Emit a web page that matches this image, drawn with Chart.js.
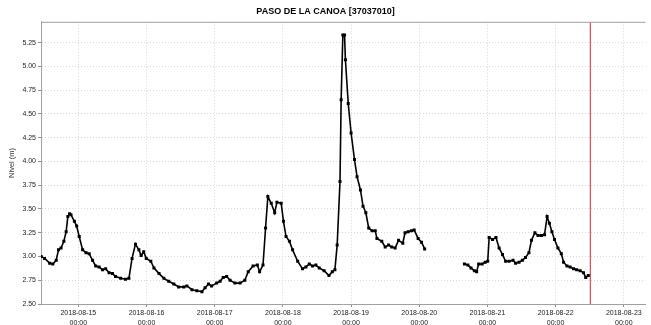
<!DOCTYPE html>
<html>
<head>
<meta charset="utf-8">
<script src="https://cdn.jsdelivr.net/npm/chart.js@4.4.1/dist/chart.umd.min.js"></script>
<style>
  body { margin: 0; background: #fff; }
</style>
</head>
<body>
<canvas id="nivelChart" width="651" height="325"></canvas>
<script>
// hours counted from 2018-08-14 00:00
var baseDay = "2018-08-14";

var hours = [
  10.9, 12.1, 13.9, 15.0, 16.2, 17.0, 17.9, 18.9, 19.7, 20.3, 20.9, 21.4, 22.6, 23.4,
  24.3, 25.5, 26.7, 27.8, 29.0, 30.1, 31.3, 32.5, 33.6, 34.8, 36.0, 37.1, 38.9, 40.6,
  41.8, 42.9, 44.1, 45.3, 46.1, 47.0, 47.9, 49.5, 50.6, 52.4, 54.1, 55.8, 57.6, 59.3,
  61.1, 62.2, 64.0, 65.7, 67.5, 68.6, 69.8, 70.9, 72.7, 73.9, 75.0, 76.2, 77.4, 79.1,
  80.9, 82.6, 83.8, 85.5, 87.0, 87.8, 89.0, 89.9, 90.7, 91.9, 93.1, 93.9, 95.4, 96.2,
  97.1, 98.3, 99.4, 101.2, 102.9, 104.1, 105.3, 106.4, 107.6, 108.8, 110.5, 112.2, 113.4,
  114.3, 115.1, 116.1, 116.5, 117.1, 117.7, 118.0, 119.0, 120.0, 121.2, 122.1, 123.3,
  124.2, 125.2, 126.2, 127.4, 128.5, 129.1, 130.8, 132.0, 133.2, 134.3, 135.5, 136.7,
  138.2, 139.0, 140.1, 141.3, 142.2, 143.6, 144.8, 145.9,
  152.0,
  159.9, 161.1, 162.2, 163.4, 164.2, 164.9, 166.1, 167.2, 168.1, 168.6, 169.8, 171.0,
  172.1, 173.3, 174.4, 175.6, 177.0, 177.9, 179.1, 180.3, 181.4, 182.6, 183.5, 184.7,
  185.8, 187.0, 188.1, 189.0, 189.8, 190.7, 191.6, 192.8, 194.0, 194.8, 196.0, 197.1,
  198.3, 199.4, 200.6, 201.8, 202.6, 203.5
];

var nivel = [
  3.00, 2.98, 2.93, 2.92, 2.96, 3.07, 3.09, 3.16, 3.26, 3.42, 3.45, 3.44, 3.37, 3.32,
  3.21, 3.07, 3.04, 3.03, 2.96, 2.90, 2.89, 2.86, 2.87, 2.83, 2.82, 2.79, 2.77, 2.76,
  2.77, 2.98, 3.13, 3.07, 3.01, 3.05, 2.98, 2.95, 2.88, 2.82, 2.77, 2.74, 2.71, 2.68,
  2.68, 2.69, 2.65, 2.64, 2.63, 2.67, 2.71, 2.69, 2.72, 2.74, 2.78, 2.79, 2.75, 2.72,
  2.72, 2.75, 2.84, 2.90, 2.91, 2.84, 2.91, 3.30, 3.63, 3.56, 3.46, 3.57, 3.56, 3.37,
  3.21, 3.16, 3.07, 2.95, 2.87, 2.89, 2.92, 2.90, 2.91, 2.88, 2.85, 2.80, 2.84,
  2.86, 3.12, 3.79, 4.65, 5.33, 5.33, 5.07, 4.61, 4.30, 4.02, 3.84, 3.70,
  3.53, 3.46, 3.30, 3.27, 3.27, 3.19, 3.16, 3.10, 3.12, 3.10, 3.09, 3.17,
  3.14, 3.25, 3.26, 3.27, 3.28, 3.19, 3.15, 3.08,
  null,
  2.92, 2.91, 2.88, 2.85, 2.84, 2.92, 2.92, 2.94, 2.95, 3.20, 3.18, 3.20,
  3.09, 3.02, 2.95, 2.95, 2.96, 2.93, 2.94, 2.96, 2.99, 3.04, 3.17, 3.25,
  3.22, 3.22, 3.23, 3.42, 3.35, 3.26, 3.18, 3.09, 3.03, 2.94, 2.90, 2.89,
  2.87, 2.86, 2.85, 2.83, 2.78, 2.80
];

var tickDays = ["2018-08-15", "2018-08-16", "2018-08-17", "2018-08-18", "2018-08-19",
                "2018-08-20", "2018-08-21", "2018-08-22", "2018-08-23"];
var tickTime = "00:00";

var nowHours = 204.2;   // red marker line
var viewStart = 10.85;
var viewEnd = 223.6;
var yMin = 2.5;
var yMax = 5.47;

var dayHours = function (d) {
  return (Date.parse(d + "T00:00:00Z") - Date.parse(baseDay + "T00:00:00Z")) / 3600000;
};
var tickHours = tickDays.map(dayHours);

var seriesPoints = hours.map(function (h, i) { return { x: h, y: nivel[i] }; });
var nowPoints = [{ x: nowHours, y: yMin }, { x: nowHours, y: yMax }];

var topBorder = {
  id: "topBorder",
  afterDraw: function (chart) {
    var a = chart.chartArea, c = chart.ctx;
    c.save();
    c.strokeStyle = "#a0a0a0";
    c.lineWidth = 1;
    c.beginPath();
    c.moveTo(a.left, a.top + 0.5);
    c.lineTo(a.right, a.top + 0.5);
    c.stroke();
    c.restore();
  }
};

var ctx = document.getElementById("nivelChart").getContext("2d");

new Chart(ctx, {
  type: "line",
  data: {
    datasets: [{
      data: seriesPoints,
      borderColor: "#000",
      backgroundColor: "#000",
      borderWidth: 1.6,
      pointStyle: "rect",
      pointRadius: 1,
      tension: 0,
      spanGaps: false
    }, {
      data: nowPoints,
      borderColor: "#e02424",
      borderWidth: 1,
      pointRadius: 0
    }]
  },
  options: {
    responsive: false,
    animation: false,
    layout: { padding: 0 },
    plugins: {
      legend: { display: false },
      tooltip: { enabled: false },
      title: {
        display: true,
        text: "PASO DE LA CANOA [37037010]",
        color: "#000",
        font: { family: "'Liberation Sans Narrow', 'Liberation Sans'", size: 9, weight: "bold" },
        padding: { top: 6, bottom: 5 }
      }
    },
    scales: {
      x: {
        type: "linear",
        min: viewStart,
        max: viewEnd,
        afterFit: function (s) {
          s.height = 21;
          s.paddingRight = 0;
          s.paddingLeft = 0;
        },
        afterBuildTicks: function (s) {
          s.ticks = tickHours.map(function (h) { return { value: h }; });
        },
        ticks: {
          autoSkip: false,
          maxRotation: 0,
          padding: 2,
          color: "#222",
          font: { family: "'Liberation Sans'", size: 7, lineHeight: 1.3 },
          callback: function (v) {
            var i = tickHours.indexOf(v);
            return [tickDays[i], tickTime];
          }
        },
        grid: { color: "#d8d8d8", tickColor: "#909090", tickLength: 3 },
        border: { color: "#a0a0a0", dash: [1, 2] }
      },
      y: {
        min: yMin,
        max: yMax,
        afterFit: function (s) {
          s.width = 41;
          s.paddingTop = 0;
          s.paddingBottom = 0;
        },
        ticks: {
          stepSize: 0.25,
          includeBounds: false,
          padding: 2,
          color: "#222",
          font: { family: "'Liberation Sans'", size: 7 },
          callback: function (v) { return v.toFixed(2); }
        },
        title: {
          display: true,
          text: "Nivel (m)",
          color: "#333",
          font: { family: "'Liberation Sans'", size: 7.5 },
          padding: { top: 7, bottom: 0 }
        },
        grid: { color: "#d8d8d8", tickColor: "#909090", tickLength: 3 },
        border: { color: "#a0a0a0", dash: [1, 2] }
      }
    }
  },
  plugins: [topBorder]
});
</script>
</body>
</html>
